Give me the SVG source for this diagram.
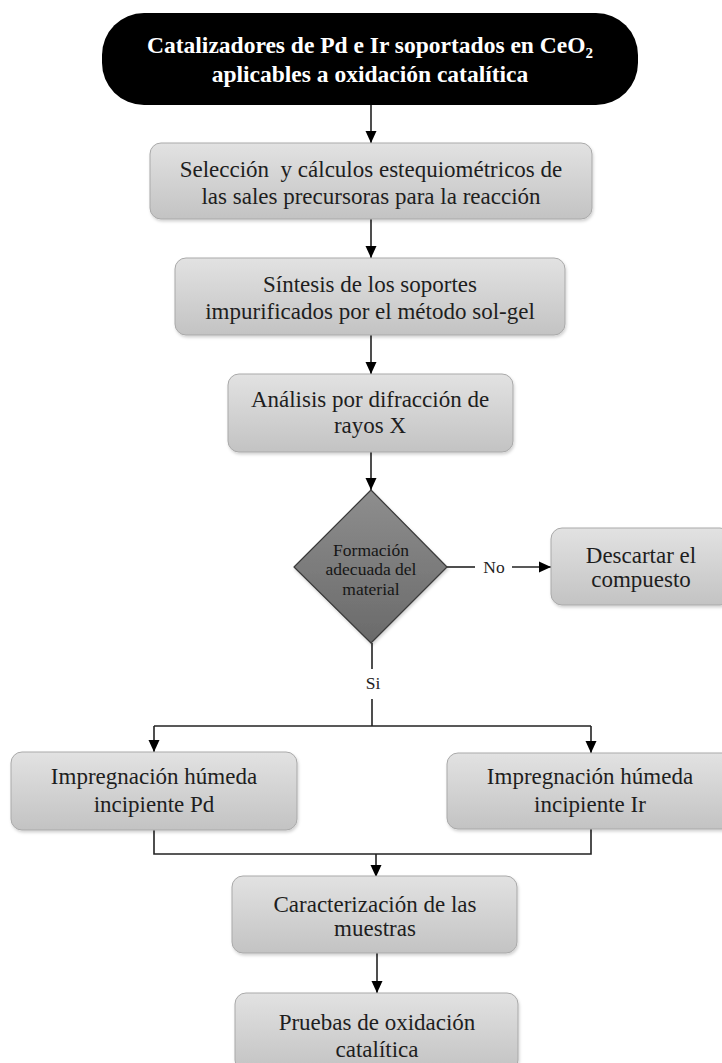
<svg xmlns="http://www.w3.org/2000/svg" width="722" height="1063" viewBox="0 0 722 1063">
<defs>
<linearGradient id="gbox" x1="0" y1="0" x2="0" y2="1">
<stop offset="0" stop-color="#e2e2e2"/>
<stop offset="1" stop-color="#c3c3c3"/>
</linearGradient>
<linearGradient id="gdia" x1="0" y1="0" x2="0" y2="1">
<stop offset="0" stop-color="#8e8e8e"/>
<stop offset="1" stop-color="#6a6a6a"/>
</linearGradient>
<filter id="sh" x="-10%" y="-10%" width="120%" height="130%">
<feDropShadow dx="1" dy="2" stdDeviation="1.5" flood-color="#000" flood-opacity="0.18"/>
</filter>
<marker id="arr" markerUnits="userSpaceOnUse" markerWidth="13" markerHeight="12" refX="12" refY="6" orient="auto" viewBox="0 0 13 12">
<path d="M0,0.5 L12,6 L0,11.5 Z" fill="#000"/>
</marker>
</defs>
<style>
.box{fill:url(#gbox);stroke:#a9a9a9;stroke-width:1;filter:url(#sh)}
.t{font-family:"Liberation Serif","Times New Roman",serif;font-size:23px;fill:#1e1e1e;text-anchor:middle}
.dt{font-family:"Liberation Serif","Times New Roman",serif;font-size:17.5px;fill:#161616;text-anchor:middle}
.lbl{font-family:"Liberation Serif","Times New Roman",serif;font-size:17.5px;fill:#1e1e1e;text-anchor:middle}
.title{font-family:"Liberation Serif","Times New Roman",serif;font-size:23.5px;font-weight:bold;fill:#fff;text-anchor:middle}
.c{fill:none;stroke:#222;stroke-width:1.6}
.ca{fill:none;stroke:#222;stroke-width:1.6;marker-end:url(#arr)}
</style>

<g id="connectors">
<line class="ca" x1="371" y1="105" x2="371" y2="143"/>
<line class="ca" x1="371" y1="219" x2="371" y2="258"/>
<line class="ca" x1="371" y1="335" x2="371" y2="374"/>
<line class="ca" x1="371" y1="452" x2="371" y2="490"/>
<line class="c" x1="447" y1="567" x2="475" y2="567"/>
<text class="lbl" x="494" y="573">No</text>
<line class="ca" x1="512" y1="567" x2="551" y2="567"/>
<line class="c" x1="372" y1="643" x2="372" y2="669"/>
<text class="lbl" x="373" y="689">Si</text>
<polyline class="c" points="372,699 372,726"/>
<polyline class="c" points="154,726 591,726"/>
<line class="ca" x1="154" y1="726" x2="154" y2="752"/>
<line class="ca" x1="591" y1="726" x2="591" y2="753"/>
<polyline class="c" points="154,830 154,854 591,854 591,829"/>
<line class="ca" x1="376" y1="854" x2="376" y2="877"/>
<line class="ca" x1="377" y1="953" x2="377" y2="993"/>
</g>

<g id="title">
<rect x="102" y="13" width="536" height="92" rx="42" ry="42" fill="#000"/>
<text class="title" x="370" y="53">Catalizadores de Pd e Ir soportados en CeO<tspan font-size="15px" dy="5">2</tspan></text>
<text class="title" x="370" y="82">aplicables a oxidación catalítica</text>
</g>

<g id="seleccion">
<rect class="box" x="150" y="143" width="442" height="76" rx="11"/>
<text class="t" x="371" y="177" xml:space="preserve">Selección  y cálculos estequiométricos de</text>
<text class="t" x="371" y="204">las sales precursoras para la reacción</text>
</g>

<g id="sintesis">
<rect class="box" x="175" y="258" width="390" height="77" rx="11"/>
<text class="t" x="370" y="292">Síntesis de los soportes</text>
<text class="t" x="370" y="319">impurificados por el método sol-gel</text>
</g>

<g id="analisis">
<rect class="box" x="228" y="374" width="285" height="78" rx="11"/>
<text class="t" x="370" y="407">Análisis por difracción de</text>
<text class="t" x="370" y="433">rayos X</text>
</g>

<g id="decision">
<polygon points="371,490 447,567 371,643 294,567" fill="url(#gdia)" stroke="#3a3a3a" stroke-width="1.2" stroke-linejoin="round" filter="url(#sh)"/>
<text class="dt" x="371" y="556">Formación</text>
<text class="dt" x="371" y="575">adecuada del</text>
<text class="dt" x="371" y="595">material</text>
</g>

<g id="descartar">
<rect class="box" x="551" y="528" width="180" height="77" rx="11"/>
<text class="t" x="641" y="563">Descartar el</text>
<text class="t" x="641" y="587">compuesto</text>
</g>

<g id="impPd">
<rect class="box" x="11" y="752" width="286" height="78" rx="11"/>
<text class="t" x="154" y="784">Impregnación húmeda</text>
<text class="t" x="154" y="812">incipiente Pd</text>
</g>

<g id="impIr">
<rect class="box" x="447" y="753" width="286" height="76" rx="11"/>
<text class="t" x="590" y="784">Impregnación húmeda</text>
<text class="t" x="590" y="812">incipiente Ir</text>
</g>

<g id="caracterizacion">
<rect class="box" x="232" y="876" width="285" height="77" rx="11"/>
<text class="t" x="375" y="912">Caracterización de las</text>
<text class="t" x="375" y="936">muestras</text>
</g>

<g id="pruebas">
<rect class="box" x="235" y="993" width="283" height="78" rx="11"/>
<text class="t" x="377" y="1030">Pruebas de oxidación</text>
<text class="t" x="377" y="1057">catalítica</text>
</g>
</svg>
